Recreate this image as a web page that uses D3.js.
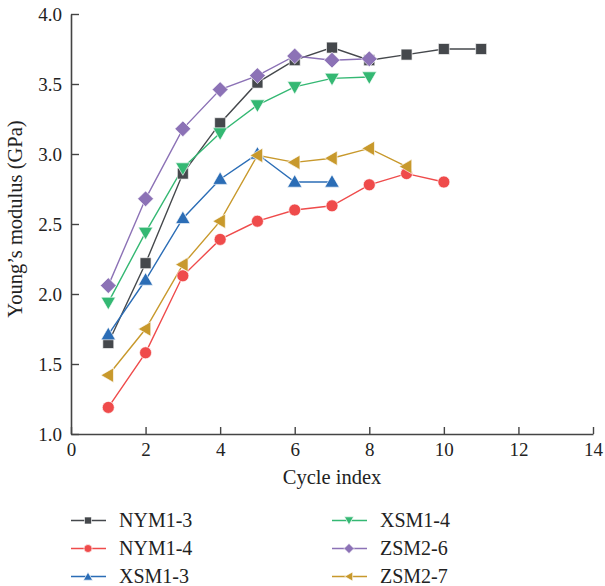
<!DOCTYPE html>
<html>
<head>
<meta charset="utf-8">
<script src="https://cdn.jsdelivr.net/npm/d3@7"></script>
<style>
  body { margin: 0; background: #fff; }
  svg text { font-family: "Liberation Serif", "DejaVu Serif", serif; fill: #222; }
</style>
</head>
<body>
<div id="chart"></div>
<script>
// series values (x = cycle index)
const seriesNames = ["NYM1-3", "NYM1-4", "XSM1-3", "XSM1-4", "ZSM2-6", "ZSM2-7"];
const nym13 = [1.65, 2.22, 2.86, 3.22, 3.51, 3.67, 3.76, 3.67, 3.71, 3.75, 3.75];
const nym14 = [1.19, 1.58, 2.13, 2.39, 2.52, 2.60, 2.63, 2.78, 2.86, 2.80];
const xsm13 = [1.71, 2.10, 2.54, 2.82, 3.00, 2.80, 2.80];
const xsm14 = [1.94, 2.44, 2.90, 3.15, 3.35, 3.48, 3.54, 3.55];
const zsm26 = [2.06, 2.68, 3.18, 3.46, 3.56, 3.70, 3.67, 3.68];
const zsm27 = [1.42, 1.75, 2.21, 2.52, 2.99, 2.94, 2.97, 3.04, 2.91];
const xTicks = [0, 2, 4, 6, 8, 10, 12, 14];
const yTicks = [1.0, 1.5, 2.0, 2.5, 3.0, 3.5, 4.0];

const colors = ["#45484c", "#ef4b4b", "#2b6db6", "#34b873", "#8c72b6", "#c8992c"];
const shapes = ["square", "circle", "tri-up", "tri-down", "diamond", "tri-left"];
const allValues = [nym13, nym14, xsm13, xsm14, zsm26, zsm27];

const width = 605, height = 586;
const margin = { left: 71, right: 12, top: 14, bottom: 152 };

const svg = d3.select("#chart").append("svg")
    .attr("width", width)
    .attr("height", height);

const x = d3.scaleLinear().domain([0, 14]).range([margin.left, width - margin.right]);
const y = d3.scaleLinear().domain([1, 4]).range([height - margin.bottom, margin.top]);

// marker drawer
function marker(g, shape, color, s) {
    let p;
    if (shape === "diamond") {
        const r = s * 0.72;
        p = g.append("path").attr("d", `M0,${-r}L${r},0L0,${r}L${-r},0Z`);
    } else if (shape === "square") {
        p = g.append("path").attr("d", d3.symbol(d3.symbolSquare, s * s)());
    } else if (shape === "circle") {
        p = g.append("path").attr("d", d3.symbol(d3.symbolCircle, Math.PI * (s / 2 + 0.5) * (s / 2 + 0.5))());
    } else {
        p = g.append("path").attr("d", d3.symbol(d3.symbolTriangle, s * s * 0.75)());
    }
    let tr = "";
    if (shape === "tri-up") tr = "translate(0,1)";
    if (shape === "tri-down") tr = "translate(0,-1) rotate(180)";
    if (shape === "tri-left") tr = "translate(1,0) rotate(-90)";
    p.attr("transform", tr)
        .attr("fill", color)
        .attr("stroke", "#fff")
        .attr("stroke-opacity", 0.8)
        .attr("stroke-width", 0.8);
}

// axes
const xAxis = d3.axisBottom(x).tickValues(xTicks).tickSizeInner(-7).tickSizeOuter(0).tickPadding(9)
    .tickFormat(d3.format("d"));
const yAxis = d3.axisLeft(y).tickValues(yTicks).tickSizeInner(-8).tickSizeOuter(0).tickPadding(9)
    .tickFormat(d3.format(".1f"));

const gx = svg.append("g").attr("transform", `translate(0,${y(1)})`).call(xAxis);
const gy = svg.append("g").attr("transform", `translate(${x(0)},0)`).call(yAxis);
[gx, gy].forEach(g => {
    g.select(".domain").attr("stroke", "#444").attr("stroke-width", 1.6);
    g.selectAll(".tick line").attr("stroke", "#444").attr("stroke-width", 1.4);
    g.selectAll(".tick text").style("font-size", "19px").attr("fill", "#222");
});

svg.append("text")
    .attr("x", 332)
    .attr("y", 484)
    .attr("text-anchor", "middle")
    .style("font-size", "20.5px")
    .text("Cycle index");

svg.append("text")
    .attr("transform", "translate(22,219) rotate(-90)")
    .attr("text-anchor", "middle")
    .style("font-size", "20.5px")
    .text("Young’s modulus (GPa)");

// lines and points
const line = d3.line().x((d, i) => x(i + 1)).y(d => y(d));
allValues.forEach((vals, k) => {
    svg.append("path")
        .datum(vals)
        .attr("d", line)
        .attr("fill", "none")
        .attr("stroke", colors[k])
        .attr("stroke-width", 1.4);
});
allValues.forEach((vals, k) => {
    vals.forEach((v, i) => {
        const g = svg.append("g").attr("transform", `translate(${x(i + 1)},${y(v)})`);
        marker(g, shapes[k], colors[k], 11);
    });
});

// legend
const legendCols = [71, 332];
const legendRows = [520.5, 548.5, 576.5];
seriesNames.forEach((name, k) => {
    const lx = legendCols[Math.floor(k / 3)];
    const ly = legendRows[k % 3];
    const g = svg.append("g").attr("transform", `translate(${lx},${ly})`);
    g.append("line").attr("x1", 0).attr("x2", 35).attr("y1", 0).attr("y2", 0)
        .attr("stroke", colors[k]).attr("stroke-width", 1.4);
    const mg = g.append("g").attr("transform", "translate(17,0)");
    marker(mg, shapes[k], colors[k], 7);
    g.append("text").attr("x", 48).attr("y", 6.5)
        .style("font-size", "20px")
        .text(name);
});
</script>
</body>
</html>
